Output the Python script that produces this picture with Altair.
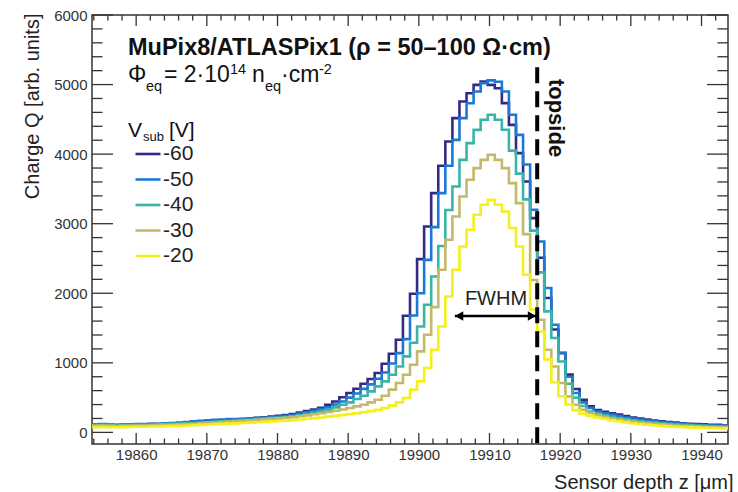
import altair as alt
import pandas as pd

# ---------------- data ----------------
bin_start = 19853.75          # left edge of first 1-um bin
voltages = ["-60", "-50", "-40", "-30", "-20"]
colors = ["#332a86", "#1c78d4", "#38b5a6", "#c4b86a", "#f3f01a"]

q_m60 = [110, 112, 108, 105, 110, 112, 115, 113, 118,
         120, 125, 128, 130, 135, 140, 148, 155, 162,
         170, 178, 185, 192, 200, 208, 218, 228, 238,
         250, 265, 285, 305, 330, 355, 395, 445, 505,
         566, 628, 700, 767, 853, 987, 1131, 1332, 1677,
         1993, 2491, 2960, 3440, 3832, 4181, 4517, 4756, 4876,
         4996, 5043, 4996, 4948, 4733, 4421, 4014, 3606, 3080,
         2510, 1931, 1480, 1140, 830, 623, 470, 374, 320,
         295, 275, 255, 235, 215, 200, 185, 170, 160,
         150, 140, 130, 125, 120, 115, 110, 108, 100]
q_m50 = [115, 118, 112, 108, 112, 115, 118, 120, 122,
         125, 130, 135, 140, 148, 158, 168, 175, 180,
         185, 190, 192, 195, 200, 205, 212, 220, 228,
         238, 250, 270, 290, 310, 335, 360, 400, 445,
         500, 560, 625, 690, 770, 860, 990, 1140, 1340,
         1680, 2000, 2480, 2950, 3440, 3832, 4205, 4517, 4732,
         4900, 5020, 5060, 5040, 4900, 4565, 4277, 3850, 3200,
         2744, 2075, 1547, 1145, 800, 566, 431, 350, 300,
         275, 255, 235, 215, 200, 185, 170, 158, 148,
         138, 130, 122, 115, 110, 105, 100, 97, 95]
q_m40 = [105, 108, 104, 100, 104, 106, 108, 110, 112,
         115, 118, 122, 126, 130, 135, 140, 146, 152,
         158, 164, 170, 176, 182, 190, 198, 205, 212,
         218, 230, 245, 262, 280, 300, 326, 359, 398,
         431, 480, 527, 589, 661, 733, 829, 948, 1092,
         1289, 1523, 1835, 2241, 2680, 3197, 3534, 3918, 4158,
         4348, 4494, 4565, 4494, 4350, 4050, 3720, 3350, 2900,
         2300, 1739, 1356, 1020, 700, 500, 380, 300, 270,
         245, 225, 205, 190, 175, 160, 150, 140, 130,
         122, 115, 108, 102, 98, 94, 90, 88, 85]
q_m30 = [95, 98, 95, 92, 95, 97, 99, 100, 102,
         104, 108, 112, 115, 120, 125, 130, 136, 142,
         148, 154, 160, 166, 172, 180, 187, 194, 201,
         208, 220, 232, 245, 260, 275, 292, 310, 330,
         350, 374, 398, 431, 470, 527, 614, 710, 829,
         973, 1164, 1404, 1800, 2338, 2769, 3103, 3391, 3631,
         3799, 3918, 3990, 3918, 3799, 3583, 3296, 2850, 2190,
         1620, 1188, 948, 710, 517, 398, 326, 280, 250,
         225, 200, 185, 170, 155, 142, 132, 122, 115,
         108, 100, 95, 90, 86, 82, 78, 76, 74]
q_m20 = [75, 78, 76, 74, 76, 78, 80, 82, 84,
         86, 90, 93, 96, 100, 104, 108, 113, 118,
         122, 126, 130, 135, 140, 146, 152, 158, 163,
         168, 176, 185, 195, 205, 215, 226, 238, 250,
         262, 275, 290, 305, 326, 350, 384, 431, 494,
         614, 733, 925, 1188, 1523, 1954, 2338, 2672, 2912,
         3128, 3272, 3343, 3272, 3175, 2937, 2672, 2266, 1763,
         1450, 1050, 720, 520, 400, 320, 270, 240, 215,
         195, 175, 160, 145, 132, 120, 110, 102, 95,
         88, 82, 77, 72, 68, 65, 62, 60, 58]
series = {"-60": q_m60, "-50": q_m50, "-40": q_m40, "-30": q_m30, "-20": q_m20}

x_major = [19860, 19870, 19880, 19890, 19900, 19910, 19920, 19930, 19940]
x_minor = [19854, 19856, 19858, 19862, 19864, 19866, 19868, 19872, 19874, 19876,
           19878, 19882, 19884, 19886, 19888, 19892, 19894, 19896, 19898, 19902,
           19904, 19906, 19908, 19912, 19914, 19916, 19918, 19922, 19924, 19926,
           19928, 19932, 19934, 19936, 19938, 19942]
y_major = [0, 1000, 2000, 3000, 4000, 5000, 6000]
y_minor = [200, 400, 600, 800, 1200, 1400, 1600, 1800, 2200, 2400, 2600, 2800,
           3200, 3400, 3600, 3800, 4200, 4400, 4600, 4800, 5200, 5400, 5600, 5800]

x_range = [19853.75, 19943.75]
y_range = [-167, 6000]
topside_z = 19916.75
topside_q = [5250, -167]
fwhm_z = [19905.1, 19916.6]
fwhm_q = 1672

# ---------------- build ----------------
rows = []
for v in voltages:
    vals = series[v]
    for i, q in enumerate(vals):
        rows.append({"z": bin_start + i, "q": q, "v": v, "o": i})
    rows.append({"z": bin_start + len(vals), "q": vals[-1], "v": v, "o": len(vals)})
df = pd.DataFrame(rows)

W, H = 636, 429
FONT = "Liberation Sans"
AX = "#333333"

xs = alt.Scale(domain=x_range, nice=False, zero=False)
ys = alt.Scale(domain=y_range, nice=False, zero=False)
xaxis = alt.Axis(values=x_major, format="d", labelFontSize=15, labelColor=AX, labelFont=FONT,
                 ticks=False, domain=False, grid=False, labelPadding=3, labelFlush=False,
                 title="Sensor depth z [μm]", titleFont=FONT, titleFontSize=20,
                 titleFontWeight="normal", titleColor="#222222", titleAlign="right",
                 titleX=641, titleY=38, titleBaseline="middle")
yaxis = alt.Axis(values=y_major, format="d", labelFontSize=15, labelColor=AX, labelFont=FONT,
                 ticks=False, domain=False, grid=False, labelPadding=5, labelFlush=False,
                 title="Charge Q [arb. units]", titleFont=FONT, titleFontSize=20,
                 titleFontWeight="normal", titleColor="#222222", titleAngle=270,
                 titleAlign="right", titleBaseline="middle", titleX=-60, titleY=-2)


def X(field="z"):
    return alt.X(f"{field}:Q", scale=xs, axis=xaxis)


def Y(field="q"):
    return alt.Y(f"{field}:Q", scale=ys, axis=yaxis)


lines = alt.Chart(df).mark_line(interpolate="step-after", strokeWidth=2.6, clip=True).encode(
    x=X(), y=Y(),
    color=alt.Color("v:N", scale=alt.Scale(domain=voltages, range=colors),
                    legend=alt.Legend(title=None, orient="none", legendX=42, legendY=125,
                                      symbolType="stroke", symbolSize=625, symbolStrokeWidth=2.6,
                                      labelFontSize=21, labelFont=FONT, labelColor="#222222",
                                      labelOffset=1, rowPadding=1.5, padding=0)),
    order="o:Q",
)


def xticks(vals, length, top):
    d = pd.DataFrame({"z": vals})
    if top:
        enc = dict(y=alt.value(0), y2=alt.value(length))
    else:
        enc = dict(y=alt.value(H), y2=alt.value(H - length))
    return alt.Chart(d).mark_rule(color=AX, strokeWidth=1.3).encode(x=X(), **enc)


def yticks(vals, length, right):
    d = pd.DataFrame({"q": vals})
    if right:
        enc = dict(x=alt.value(W), x2=alt.value(W - length))
    else:
        enc = dict(x=alt.value(0), x2=alt.value(length))
    return alt.Chart(d).mark_rule(color=AX, strokeWidth=1.3).encode(y=Y(), **enc)


ticks = [xticks(x_major, 11, False), xticks(x_minor, 5.5, False),
         xticks(x_major, 11, True), xticks(x_minor, 5.5, True),
         yticks(y_major, 21, False), yticks(y_minor, 10.5, False),
         yticks(y_major, 21, True), yticks(y_minor, 10.5, True)]

dash = alt.Chart(pd.DataFrame({"z": [topside_z], "q": [topside_q[0]], "q2": [topside_q[1]]})).mark_rule(
    color="black", strokeWidth=4, strokeDash=[16, 8]).encode(x=X(), y=Y(), y2="q2:Q")

arrow = alt.Chart(pd.DataFrame({"z": [fwhm_z[0]], "z2": [fwhm_z[1]], "q": [fwhm_q]})).mark_rule(
    color="black", strokeWidth=2.5).encode(x=X(), x2="z2:Q", y=Y())
head_l = alt.Chart(pd.DataFrame({"z": [fwhm_z[0] + 0.6], "q": [fwhm_q]})).mark_point(
    shape="triangle-left", filled=True, color="black", size=90, opacity=1).encode(x=X(), y=Y())
head_r = alt.Chart(pd.DataFrame({"z": [fwhm_z[1] - 0.6], "q": [fwhm_q]})).mark_point(
    shape="triangle-right", filled=True, color="black", size=90, opacity=1).encode(x=X(), y=Y())


def txt(s, x, y, size, bold=False, angle=0, align="left", baseline="alphabetic", color="#111111"):
    kw = dict(text=s, fontSize=size, font=FONT, align=align, baseline=baseline, color=color,
              fontWeight="bold" if bold else "normal")
    if angle:
        kw["angle"] = angle
    return alt.Chart(pd.DataFrame({"a": [0]})).mark_text(**kw).encode(x=alt.value(x), y=alt.value(y))


texts = [
    txt("MuPix8/ATLASPix1 (ρ = 50–100  Ω·cm)", 36, 40, 23.5, bold=True),
    txt("Φ", 36, 67, 23),
    txt("eq", 54, 76, 14.5),
    txt("= 2·10", 72, 67, 23),
    txt("14", 138, 59, 14.5),
    txt("n", 160, 67, 23),
    txt("eq", 173, 76, 14.5),
    txt("·cm", 189, 67, 23),
    txt("-2", 227, 59, 14.5),
    txt("V", 36, 122, 21),
    txt("sub", 51, 126, 13),
    txt("[V]", 77, 122, 21),
    txt("topside", 464, 103, 22, bold=True, angle=90, align="center", baseline="middle"),
    txt("FWHM", 404, 284, 20, align="center", baseline="middle", color="#222222"),
]

chart = alt.layer(lines, *ticks, dash, arrow, head_l, head_r, *texts).properties(
    width=W, height=H,
    autosize=alt.AutoSizeParams(type="none"),
    padding={"left": 92, "top": 15, "right": 10, "bottom": 48},
    background="white",
).configure_view(stroke=AX, strokeWidth=1.5)

chart.save("out.html", embed_options={"renderer": "svg", "actions": False})
